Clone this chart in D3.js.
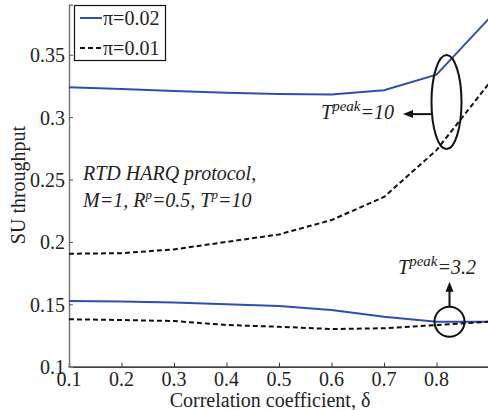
<!DOCTYPE html>
<html>
<head>
<meta charset="utf-8">
<script src="https://cdn.jsdelivr.net/npm/d3@7"></script>
<style>
  body { margin: 0; background: #fff; }
</style>
</head>
<body>
<svg id="chart" width="488" height="410"></svg>
<script>
var deltas = [0.1, 0.2, 0.3, 0.4, 0.5, 0.6, 0.7, 0.8, 0.9];
// T^peak = 10
var pi002_t10 = [0.324, 0.3225, 0.321, 0.3195, 0.3185, 0.3182, 0.3215, 0.334, 0.379];
var pi001_t10 = [0.1905, 0.191, 0.194, 0.2, 0.206, 0.2175, 0.236, 0.2735, 0.327];
// T^peak = 3.2
var pi002_t32 = [0.1526, 0.1522, 0.1514, 0.150, 0.1486, 0.1454, 0.140, 0.136, 0.136];
var pi001_t32 = [0.138, 0.1374, 0.1366, 0.1334, 0.132, 0.1302, 0.1308, 0.1334, 0.136];
var xTicks = [0.1, 0.2, 0.3, 0.4, 0.5, 0.6, 0.7, 0.8];
var yTicks = [0.1, 0.15, 0.2, 0.25, 0.3, 0.35];
var legendLabels = ["π=0.02", "π=0.01"];

var svg = d3.select("#chart");
var blue = "#2f4fae";
var serif = "Liberation Serif, Times New Roman, serif";
var fs = 20;

var x = d3.scaleLinear().domain([0.1, 0.9]).range([69, 489]);
var y = d3.scaleLinear().domain([0.1, 0.39]).range([366.7, 4.8]);

// axes, ticks pointing inward like matlab
var xAxis = svg.append("g")
  .attr("transform", "translate(0," + y(0.1) + ")")
  .call(d3.axisTop(x).tickValues(xTicks).tickSize(4).tickFormat(""));
xAxis.select(".domain").attr("stroke", "#000").attr("stroke-width", 1.2);
xAxis.selectAll(".tick line").attr("stroke", "#333");
xAxis.selectAll(".tick").filter(function (d) { return d === 0.1; }).remove();

svg.append("g").selectAll("text")
  .data(xTicks)
  .enter().append("text")
  .attr("x", function (d) { return x(d); })
  .attr("y", 385.5)
  .attr("text-anchor", "middle")
  .attr("font-family", serif)
  .attr("font-size", fs)
  .attr("fill", "#222")
  .text(function (d) { return d.toFixed(1); });

var yAxis = svg.append("g")
  .attr("transform", "translate(" + x(0.1) + ",0)")
  .call(d3.axisRight(y).tickValues(yTicks).tickSize(4).tickFormat(""));
yAxis.select(".domain").attr("stroke", "#777").attr("stroke-width", 1.5);
yAxis.selectAll(".tick line").attr("stroke", "#555");
yAxis.selectAll(".tick").filter(function (d) { return d === 0.1; }).remove();

svg.append("g").selectAll("text")
  .data(yTicks)
  .enter().append("text")
  .attr("x", 65)
  .attr("y", function (d) { return y(d) + 7.5; })
  .attr("text-anchor", "end")
  .attr("font-family", serif)
  .attr("font-size", fs)
  .attr("fill", "#222")
  .text(function (d) { return String(d); });

svg.append("text")
  .attr("x", 270).attr("y", 407)
  .attr("text-anchor", "middle")
  .attr("font-family", serif)
  .attr("font-size", fs)
  .attr("fill", "#222")
  .text("Correlation coefficient, δ");

svg.append("text")
  .attr("transform", "translate(25,185) rotate(-90)")
  .attr("text-anchor", "middle")
  .attr("font-family", serif)
  .attr("font-size", fs)
  .attr("fill", "#222")
  .text("SU throughput");

// curves
var line = d3.line()
  .x(function (d, i) { return x(deltas[i]); })
  .y(function (d) { return y(d); });

var plot = svg.append("g");
[pi002_t10, pi002_t32].forEach(function (s) {
  plot.append("path").datum(s)
    .attr("d", line)
    .attr("fill", "none")
    .attr("stroke", blue)
    .attr("stroke-width", 2);
});
[pi001_t10, pi001_t32].forEach(function (s) {
  plot.append("path").datum(s)
    .attr("d", line)
    .attr("fill", "none")
    .attr("stroke", "#111")
    .attr("stroke-width", 2)
    .attr("stroke-dasharray", "5,3");
});

// annotations
var ann = svg.append("g").attr("stroke", "#111").attr("fill", "none").attr("stroke-width", 2);
var cx1 = x(0.8) + 10;
ann.append("ellipse")
  .attr("cx", cx1).attr("cy", y(0.3) - 15)
  .attr("rx", 15).attr("ry", 47);
ann.append("line")
  .attr("x1", cx1 - 15).attr("y1", y(0.3) - 3)
  .attr("x2", 410).attr("y2", y(0.3) - 3);
svg.append("path")
  .attr("d", "M403," + (y(0.3) - 3) + " l10,-4 l0,8 z")
  .attr("fill", "#111");

var cy2 = y(0.136);
ann.append("circle")
  .attr("cx", cx1 + 3).attr("cy", cy2)
  .attr("r", 15);
ann.append("line")
  .attr("x1", cx1 + 3).attr("y1", cy2 - 15)
  .attr("x2", cx1 + 3).attr("y2", cy2 - 33);
svg.append("path")
  .attr("d", "M" + (cx1 + 3) + "," + (cy2 - 40) + " l-4,10 l8,0 z")
  .attr("fill", "#111");

function peakLabel(px, py, val) {
  var t = svg.append("text")
    .attr("x", px).attr("y", py)
    .attr("font-family", serif)
    .attr("font-size", fs)
    .attr("font-style", "italic")
    .attr("fill", "#222");
  t.append("tspan").text("T");
  t.append("tspan").attr("dy", -8).attr("font-size", 15).text("peak");
  t.append("tspan").attr("dy", 8).text("=" + val);
}
peakLabel(321, 118.5, "10");
peakLabel(398, 274, "3.2");

var note = svg.append("text")
  .attr("x", 83).attr("y", 180)
  .attr("font-family", serif)
  .attr("font-size", fs)
  .attr("font-style", "italic")
  .attr("fill", "#222")
  .text("RTD HARQ protocol,");
var l2 = svg.append("text")
  .attr("x", 83).attr("y", 207)
  .attr("font-family", serif)
  .attr("font-size", fs)
  .attr("font-style", "italic")
  .attr("fill", "#222");
l2.append("tspan").text("M=1, R");
l2.append("tspan").attr("dy", -8).attr("font-size", 13).text("p");
l2.append("tspan").attr("dy", 8).text("=0.5, T");
l2.append("tspan").attr("dy", -8).attr("font-size", 13).text("p");
l2.append("tspan").attr("dy", 8).text("=10");

// legend
var legend = svg.append("g");
legend.append("rect")
  .attr("x", 74.5).attr("y", 5.5)
  .attr("width", 91).attr("height", 55)
  .attr("fill", "#fff").attr("stroke", "#111").attr("stroke-width", 1.2);
legendLabels.forEach(function (lbl, i) {
  var ly = 18 + i * 30;
  legend.append("line")
    .attr("x1", 80).attr("x2", 102)
    .attr("y1", ly).attr("y2", ly)
    .attr("stroke", i === 0 ? blue : "#111")
    .attr("stroke-width", 2)
    .attr("stroke-dasharray", i === 0 ? null : "5,3");
  legend.append("text")
    .attr("x", 103).attr("y", ly + 7)
    .attr("font-family", serif)
    .attr("font-size", fs)
    .attr("fill", "#222")
    .text(lbl);
});
</script>
</body>
</html>
